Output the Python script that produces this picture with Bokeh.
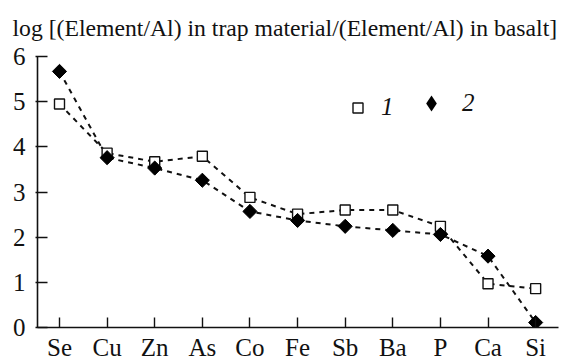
import math
from bokeh.plotting import figure
from bokeh.models import Range1d, FixedTicker, Legend, LegendItem, ColumnDataSource
from bokeh.embed import file_html
from bokeh.resources import INLINE

elements = ["Se", "Cu", "Zn", "As", "Co", "Fe", "Sb", "Ba", "P", "Ca", "Si"]
series1 = [4.95, 3.86, 3.67, 3.79, 2.88, 2.51, 2.60, 2.60, 2.24, 0.97, 0.86]
series2 = [5.67, 3.76, 3.53, 3.26, 2.57, 2.37, 2.24, 2.15, 2.06, 1.58, 0.11]
y_ticks = [0, 1, 2, 3, 4, 5, 6]
title_text = "log [(Element/Al) in trap material/(Element/Al) in basalt]"
legend_labels = ["1", "2"]

FONT = "Liberation Serif"
INK = "#111111"
xs = list(range(len(elements)))
src = ColumnDataSource(dict(x=xs, s1=series1, s2=series2))

p = figure(width=564, height=363, output_backend="svg", toolbar_location=None,
           x_range=Range1d(-0.462, 10.48), y_range=Range1d(0, 6),
           min_border_left=37, min_border_right=6, min_border_top=56, min_border_bottom=36)
p.outline_line_color = None
p.grid.visible = False
p.background_fill_color = "white"

p.title.text = title_text
p.title.align = "left"
p.title.vertical_align = "top"
p.title.offset = -25
p.title.text_font = FONT
p.title.text_font_size = "23.7px"
p.title.text_font_style = "normal"
p.title.text_line_height = 0.7
p.title.text_color = INK
p.title.standoff = 28

for ax in (p.xaxis[0], p.yaxis[0]):
    ax.axis_line_color = INK
    ax.axis_line_width = 1.6
    ax.major_tick_line_color = INK
    ax.major_tick_line_width = 1.4
    ax.major_tick_in = 10
    ax.minor_tick_line_color = None
    ax.major_label_text_font = FONT
    ax.major_label_text_font_size = "25px"
    ax.major_label_text_color = INK

p.yaxis.ticker = FixedTicker(ticks=y_ticks)
p.yaxis.major_tick_out = 2
p.yaxis.major_label_standoff = 10
p.xaxis.ticker = FixedTicker(ticks=xs)
p.xaxis.major_label_overrides = {i: e for i, e in enumerate(elements)}
p.xaxis.major_tick_out = 0
p.xaxis.major_label_standoff = 6

p.line("x", "s1", source=src, line_color=INK, line_width=2, line_dash="5 5")
p.line("x", "s2", source=src, line_color=INK, line_width=2, line_dash="5 5")
r1 = p.scatter("x", "s1", source=src, marker="square", size=10, fill_color="white",
               line_color=INK, line_width=1.4)
r2 = p.scatter("x", "s2", source=src, marker="square", angle=math.pi / 4, size=10,
               fill_color="#000000", line_color="#000000", line_width=1)
# legend key for series 2: zero size in the plot, the legend draws its own size
r2_key = p.scatter("x", "s2", source=src, marker="diamond", size=0,
                   fill_color="#000000", line_color=None)

common = dict(orientation="horizontal", padding=0, margin=0, border_line_color=None,
              background_fill_alpha=0, label_text_font=FONT, label_text_font_size="25px",
              label_text_font_style="italic", label_text_color=INK,
              label_standoff=11, label_width=13)
leg1 = Legend(items=[LegendItem(label=legend_labels[0], renderers=[r1])],
              location=(308, 206), glyph_width=25, glyph_height=25, **common)
leg2 = Legend(items=[LegendItem(label=legend_labels[1], renderers=[r2_key])],
              location=(374, 204), glyph_width=40, glyph_height=40, **common)
p.add_layout(leg1, "center")
p.add_layout(leg2, "center")

open("out.html", "w").write(file_html(p, INLINE))
